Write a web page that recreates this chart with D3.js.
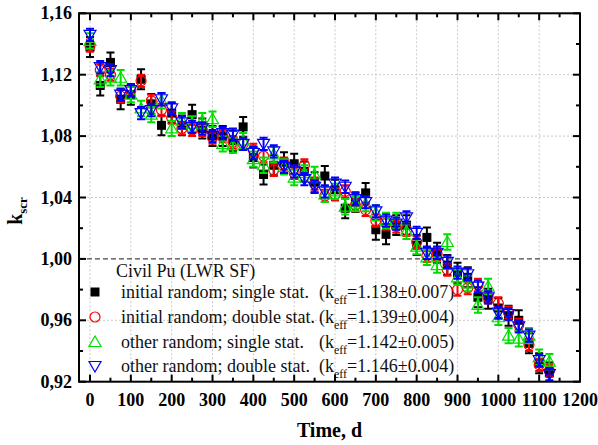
<!DOCTYPE html>
<html><head><meta charset="utf-8">
<script src="https://cdn.jsdelivr.net/npm/d3@7"></script>
<style>body{margin:0;background:#fff}svg{display:block}</style>
</head><body>
<svg id="c" width="598" height="445"></svg>
<script>
const times = [0,25,50,75,100,125,150,175,200,225,250,275,300,325,350,375,400,425,450,475,500,525,550,575,600,625,650,675,700,725,750,775,800,825,850,875,900,925,950,975,1000,1025,1050,1075,1100,1125];
const initSingle = [1.138,1.113,1.128,1.104,1.107,1.117,1.101,1.087,1.095,1.087,1.094,1.085,1.080,1.080,1.077,1.086,1.066,1.055,1.061,1.063,1.062,1.057,1.050,1.054,1.045,1.033,1.037,1.043,1.019,1.016,1.022,1.022,1.009,1.014,1.004,0.996,0.991,0.988,0.975,0.974,0.968,0.963,0.960,0.945,0.932,0.926];
const initDouble = [1.139,1.123,1.120,1.106,1.110,1.116,1.103,1.097,1.092,1.085,1.084,1.084,1.079,1.080,1.076,1.075,1.071,1.067,1.058,1.062,1.056,1.061,1.049,1.041,1.042,1.044,1.035,1.032,1.025,1.023,1.021,1.019,1.011,1.002,1.003,0.993,0.980,0.981,0.983,0.975,0.971,0.965,0.957,0.944,0.931,0.927];
const otherSingle = [1.142,1.117,1.118,1.118,1.107,1.098,1.094,1.103,1.085,1.090,1.088,1.090,1.091,1.075,1.074,1.077,1.065,1.061,1.068,1.060,1.053,1.056,1.055,1.042,1.044,1.034,1.036,1.036,1.030,1.025,1.025,1.018,1.008,1.001,0.996,1.011,0.988,0.984,0.970,0.982,0.962,0.950,0.948,0.950,0.936,0.933];
const otherDouble = [1.146,1.125,1.123,1.107,1.110,1.095,1.097,1.104,1.098,1.089,1.086,1.085,1.080,1.082,1.081,1.075,1.069,1.075,1.070,1.060,1.057,1.052,1.047,1.044,1.049,1.047,1.039,1.037,1.031,1.025,1.023,1.027,1.017,1.004,1.004,0.998,0.991,0.990,0.982,0.975,0.965,0.964,0.956,0.950,0.934,0.925];
const errors = [0.0065,0.004,0.005,0.004];
const legendTitle = "Civil Pu (LWR SF)";
const legendLabels = ["initial random; single stat.","initial random; double stat.","other random; single stat.","other random; double stat."];
const keffLabels = ["=1.138\u00B10.007)","=1.139\u00B10.004)","=1.142\u00B10.005)","=1.146\u00B10.004)"];
const xTicks = [0,100,200,300,400,500,600,700,800,900,1000,1100,1200];
const yTicks = [0.92,0.96,1.00,1.04,1.08,1.12,1.16];

const svg = d3.select("#c");
const L=79,R=580,T=13.3,B=381.7;
const x = d3.scaleLinear().domain([-27,1200]).range([L,R]);
const y = d3.scaleLinear().domain([0.92,1.16]).range([B,T]);
const serif = "Liberation Serif, DejaVu Serif, Times New Roman, serif";

// gridlines
const grid = svg.append("g");
grid.selectAll("line.gx").data(xTicks.filter(d=>d<1200)).enter().append("line")
  .attr("x1",d=>x(d)).attr("x2",d=>x(d)).attr("y1",T).attr("y2",B)
  .attr("stroke","#c8c8c8").attr("stroke-width",1).attr("stroke-dasharray","2,2");
grid.selectAll("line.gy").data(yTicks.filter(d=>d>0.92&&d<1.16&&Math.abs(d-1)>1e-6)).enter().append("line")
  .attr("x1",L).attr("x2",R).attr("y1",d=>y(d)).attr("y2",d=>y(d))
  .attr("stroke","#c8c8c8").attr("stroke-width",1).attr("stroke-dasharray","2,2");
svg.append("line").attr("x1",L).attr("x2",R).attr("y1",y(1)).attr("y2",y(1))
  .attr("stroke","#444").attr("stroke-width",1.2).attr("stroke-dasharray","5,3");

// legend
const lg = svg.append("g").style("font-family",serif).attr("font-size",18).attr("fill","#111");
lg.append("text").attr("x",116).attr("y",277).text(legendTitle);
const rowY = [292,317,342,366];
const colors = ["#000000","#ff0000","#00dd00","#0000ff"];

// data
const clip = svg.append("clipPath").attr("id","pc").append("rect").attr("x",L).attr("y",T).attr("width",R-L).attr("height",B-T);
const pg = svg.append("g").attr("clip-path","url(#pc)");
const seriesVals = [initSingle,initDouble,otherSingle,otherDouble];

function marker(g,i,cx,cy){
  if(i===0) g.append("rect").attr("x",cx-4.5).attr("y",cy-4.5).attr("width",9).attr("height",9).attr("fill","#000");
  else if(i===1) g.append("circle").attr("cx",cx).attr("cy",cy).attr("r",5).attr("fill","none").attr("stroke",colors[1]).attr("stroke-width",1.2);
  else if(i===2) g.append("path").attr("d",`M${cx},${cy-6}L${cx+6},${cy+4.5}L${cx-6},${cy+4.5}Z`).attr("fill","none").attr("stroke",colors[2]).attr("stroke-width",1.2);
  else g.append("path").attr("d",`M${cx},${cy+6}L${cx+6},${cy-4.5}L${cx-6},${cy-4.5}Z`).attr("fill","none").attr("stroke",colors[3]).attr("stroke-width",1.2);
}

seriesVals.forEach((vals,i)=>{
  const g = pg.append("g");
  const e = errors[i];
  times.forEach((t,j)=>{
    const cx=x(t), v=vals[j];
    const y1=y(v+e), y2=y(v-e);
    g.append("line").attr("x1",cx).attr("x2",cx).attr("y1",y1).attr("y2",y2).attr("stroke",colors[i]).attr("stroke-width",2);
    g.append("line").attr("x1",cx-4).attr("x2",cx+4).attr("y1",y1).attr("y2",y1).attr("stroke",colors[i]).attr("stroke-width",2);
    g.append("line").attr("x1",cx-4).attr("x2",cx+4).attr("y1",y2).attr("y2",y2).attr("stroke",colors[i]).attr("stroke-width",2);
    marker(g,i,cx,y(v));
  });
});

legendLabels.forEach((lab,i)=>{
  marker(lg,i,95,rowY[i]);
  lg.append("text").attr("x",121).attr("y",rowY[i]+6).text(lab);
  const t = lg.append("text").attr("x",319).attr("y",rowY[i]+6);
  t.append("tspan").text("(k");
  t.append("tspan").attr("font-size",12).attr("dy",6).text("eff");
  t.append("tspan").attr("dy",-6).text(keffLabels[i]);
});

// axes frame
const ax = svg.append("g").attr("stroke","#000").attr("stroke-width",2);
ax.append("rect").attr("x",L).attr("y",T).attr("width",R-L).attr("height",B-T).attr("fill","none");
const xMinor = d3.range(0,1201,50);
xMinor.forEach(d=>{
  const major = d%100===0;
  const len = major?7:4;
  ax.append("line").attr("x1",x(d)).attr("x2",x(d)).attr("y1",B).attr("y2",B-len);
  ax.append("line").attr("x1",x(d)).attr("x2",x(d)).attr("y1",T).attr("y2",T+len);
});
const yMinor = d3.range(0,13).map(k=>0.92+k*0.02);
yMinor.forEach((d,k)=>{
  const major = k%2===0;
  const len = major?7:4;
  ax.append("line").attr("x1",L).attr("x2",L+len).attr("y1",y(d)).attr("y2",y(d));
  ax.append("line").attr("x1",R).attr("x2",R-len).attr("y1",y(d)).attr("y2",y(d));
});

// tick labels
const tl = svg.append("g").style("font-family",serif).attr("font-weight","bold").attr("font-size",18).attr("fill","#000");
tl.selectAll("text.x").data(xTicks).enter().append("text")
  .attr("x",d=>x(d)).attr("y",B+24).attr("text-anchor","middle").text(d=>d);
tl.selectAll("text.y").data(yTicks).enter().append("text")
  .attr("x",L-7).attr("y",d=>y(d)+6).attr("text-anchor","end").text(d=>d.toFixed(2).replace(".",","));

// axis titles
svg.append("text").style("font-family",serif).attr("font-weight","bold").attr("font-size",20)
  .attr("x",(L+R)/2).attr("y",437).attr("text-anchor","middle").text("Time, d");
const yl = svg.append("text").style("font-family",serif).attr("font-weight","bold").attr("font-size",20)
  .attr("transform","translate(22,211) rotate(-90)").attr("text-anchor","middle");
yl.append("tspan").text("k");
yl.append("tspan").attr("font-size",13).attr("dy",5).text("scr");
</script>
</body></html>
